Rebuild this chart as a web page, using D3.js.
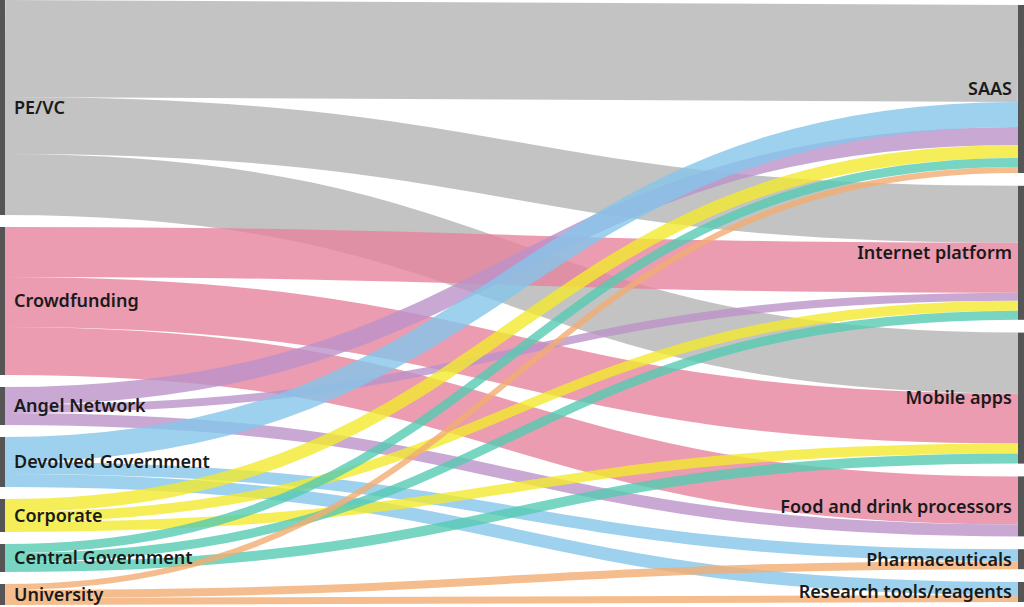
<!DOCTYPE html>
<html><head><meta charset="utf-8">
<script src="https://cdn.jsdelivr.net/npm/d3@7"></script>
<style>body{margin:0;background:#fff}</style>
</head><body><svg id="chart"></svg>
<script>
var sources = ["PE/VC","Crowdfunding","Angel Network","Devolved Government","Corporate","Central Government","University"];
var targets = ["SAAS","Internet platform","Mobile apps","Food and drink processors","Pharmaceuticals","Research tools/reagents"];
var colors = {"PE/VC":"#b4b4b4","Crowdfunding":"#e6839d","Angel Network":"#bb92c9","Devolved Government":"#85c5ea",
  "Corporate":"#f3ea2e","Central Government":"#55cab2","University":"#f2ad72"};
// links: [source, target, value]; order per source = source order, per target = targetOrder
var links = [
  ["PE/VC","SAAS",97],["PE/VC","Internet platform",57],["PE/VC","Mobile apps",61],
  ["Crowdfunding","Internet platform",50],["Crowdfunding","Mobile apps",50],["Crowdfunding","Food and drink processors",48],
  ["Angel Network","SAAS",18],["Angel Network","Internet platform",8],["Angel Network","Food and drink processors",12],
  ["Devolved Government","SAAS",25],["Devolved Government","Pharmaceuticals",12],["Devolved Government","Research tools/reagents",13],
  ["Corporate","SAAS",13],["Corporate","Internet platform",10],["Corporate","Mobile apps",10],
  ["Central Government","SAAS",9],["Central Government","Internet platform",9],["Central Government","Mobile apps",10],
  ["University","SAAS",6],["University","Pharmaceuticals",8],["University","Research tools/reagents",7]
];
var targetOrder = {"SAAS":["PE/VC","Devolved Government","Angel Network","Corporate","Central Government","University"]};

var W = 1024, H = 607, nodeW = 5;
var svg = d3.select("#chart").attr("width", W).attr("height", H);

function sumOf(name, key){ return d3.sum(links.filter(l => l[key] === name), l => l[2]); }
var sTot = sources.map(s => sumOf(s,0)), tTot = targets.map(t => sumOf(t,1));
var ky = Math.min((H - 2 - 6*12)/d3.sum(sTot), (H - 8 - 5*12)/d3.sum(tTot));
var k = d3.scaleLinear().domain([0,1]).range([0,ky]);

function layout(names, tots, top, bottom){
  var gap = (bottom - top - k(d3.sum(tots)))/(names.length-1), y = top, out = {};
  names.forEach((n,i) => { out[n] = {y0:y, y1:y + k(tots[i])}; y += k(tots[i]) + gap; });
  return out;
}
var sNodes = layout(sources, sTot, 0, H - 2), tNodes = layout(targets, tTot, 5, H - 5);
var x = d3.scaleLinear().domain([0,1]).range([0, W - nodeW - 1]);

var L = links.map(l => ({s:l[0], t:l[1], v:l[2], w:k(l[2])}));
sources.forEach(s => { var y = sNodes[s].y0; L.filter(l => l.s===s).forEach(l => { l.sy = y + l.w/2; y += l.w; }); });
targets.forEach(t => {
  var ord = targetOrder[t] || sources, y = tNodes[t].y0;
  L.filter(l => l.t===t).sort((a,b) => ord.indexOf(a.s) - ord.indexOf(b.s))
   .forEach(l => { l.ty = y + l.w/2; y += l.w; });
});

var link = d3.linkHorizontal();
svg.append("g").selectAll("path").data(L).enter().append("path")
  .attr("d", d => link({source:[x(0)+nodeW, d.sy], target:[x(1), d.ty]}))
  .attr("fill","none").attr("stroke", d => colors[d.s]).attr("stroke-opacity",0.8)
  .attr("stroke-width", d => d.w);

svg.append("g").selectAll("rect").data(sources).enter().append("rect")
  .attr("x", x(0)).attr("y", d => sNodes[d].y0).attr("width", nodeW)
  .attr("height", d => sNodes[d].y1 - sNodes[d].y0).attr("fill","#555");
svg.append("g").selectAll("rect").data(targets).enter().append("rect")
  .attr("x", x(1)).attr("y", d => tNodes[d].y0).attr("width", nodeW+1)
  .attr("height", d => tNodes[d].y1 - tNodes[d].y0).attr("fill","#555");

svg.append("g").selectAll("text").data(sources).enter().append("text")
  .attr("x", 14).attr("y", d => (sNodes[d].y0 + sNodes[d].y1)/2).attr("dy","0.35em")
  .attr("font-family","Noto Sans").attr("font-size",18).attr("font-weight",600).attr("fill","#1a1a1a")
  .text(d => d);
svg.append("g").selectAll("text").data(targets).enter().append("text")
  .attr("x", W - 12).attr("y", d => (tNodes[d].y0 + tNodes[d].y1)/2).attr("dy","0.35em")
  .attr("text-anchor","end")
  .attr("font-family","Noto Sans").attr("font-size",18).attr("font-weight",600).attr("fill","#1a1a1a")
  .text(d => d);
</script></body></html>
